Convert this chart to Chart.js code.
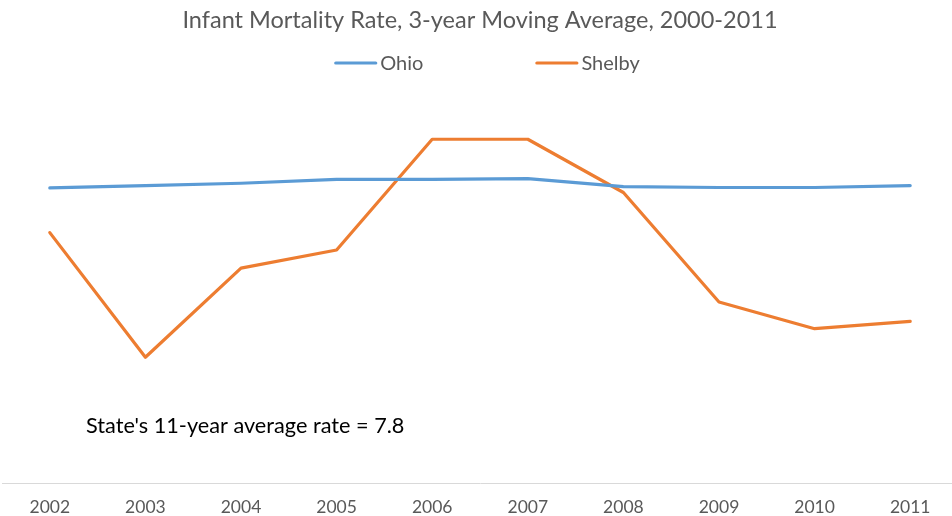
<!DOCTYPE html>
<html>
<head>
<meta charset="utf-8">
<script src="https://cdn.jsdelivr.net/npm/chart.js@4/dist/chart.umd.min.js"></script>
<style>
html,body{margin:0;padding:0;background:#fff;overflow:hidden;}
#wrap{width:952px;height:516px;position:relative;overflow:hidden;}
canvas{display:block;}
</style>
</head>
<body>
<div id="wrap"><canvas id="c" width="960" height="532"></canvas></div>
<script>
const years = ['2002','2003','2004','2005','2006','2007','2008','2009','2010','2011'];
const ohio = [7.65, 7.71, 7.77, 7.87, 7.87, 7.89, 7.68, 7.66, 7.66, 7.71];
const shelby = [6.49, 3.26, 5.57, 6.04, 8.91, 8.91, 7.53, 4.69, 4.00, 4.19];
const titleText = 'Infant Mortality Rate, 3-year Moving Average, 2000-2011';
const noteText = "State's 11-year average rate = 7.8";

const FONT = 'Lato, "Open Sans", sans-serif';

// custom legend (drawn from the datasets)
const legendPlugin = {
  id: 'xlLegend',
  afterDraw(chart) {
    const ctx = chart.ctx;
    const items = chart.data.datasets;
    const lineLen = 43, gapText = 3, gapItem = 112, cy = 63, centerX = 487;
    ctx.save();
    ctx.font = '20px ' + FONT;
    const widths = items.map(d => ctx.measureText(d.label).width);
    let total = 0;
    widths.forEach((w, i) => { total += lineLen + gapText + w + (i < widths.length - 1 ? gapItem : 0); });
    let x = centerX - total / 2;
    items.forEach((d, i) => {
      ctx.strokeStyle = d.borderColor;
      ctx.lineWidth = 3.2;
      ctx.lineCap = 'round';
      ctx.beginPath();
      ctx.moveTo(x + 1.5, cy);
      ctx.lineTo(x + lineLen - 1.5, cy);
      ctx.stroke();
      x += lineLen + gapText;
      ctx.fillStyle = '#595959';
      ctx.textBaseline = 'middle';
      ctx.textAlign = 'left';
      ctx.fillText(d.label, x, cy + 1);
      x += widths[i] + gapItem;
    });
    ctx.restore();
  }
};

const notePlugin = {
  id: 'note',
  afterDraw(chart) {
    const ctx = chart.ctx;
    ctx.save();
    ctx.font = '21.7px ' + FONT;
    ctx.fillStyle = '#000000';
    ctx.textBaseline = 'middle';
    ctx.textAlign = 'left';
    ctx.fillText(noteText, 86, 426);
    ctx.restore();
  }
};

new Chart(document.getElementById('c'), {
  type: 'line',
  data: {
    labels: years,
    datasets: [
      { label: 'Ohio', data: ohio, borderColor: '#5B9BD5', backgroundColor: '#5B9BD5',
        borderWidth: 3.2, pointRadius: 0, tension: 0, borderCapStyle: 'round', borderJoinStyle: 'round' },
      { label: 'Shelby', data: shelby, borderColor: '#ED7D31', backgroundColor: '#ED7D31',
        borderWidth: 3.2, pointRadius: 0, tension: 0, borderCapStyle: 'round', borderJoinStyle: 'round' }
    ]
  },
  options: {
    responsive: false,
    animation: false,
    layout: { padding: { left: 2, right: 2, top: 0, bottom: 0 } },
    plugins: {
      title: { display: true, text: titleText, color: '#595959',
        font: { family: FONT, size: 23.5, weight: 'normal' }, padding: { top: 6, bottom: 63 } },
      legend: { display: false },
      tooltip: { enabled: false }
    },
    scales: {
      x: {
        offset: true,
        grid: { display: false, drawTicks: false },
        border: { display: true, color: '#D9D9D9', width: 1 },
        ticks: { color: '#595959', font: { family: FONT, size: 17.5 }, padding: 14, maxRotation: 0 }
      },
      y: {
        display: false,
        min: 0, max: 10
      }
    }
  },
  plugins: [legendPlugin, notePlugin]
});
</script>
</body>
</html>
